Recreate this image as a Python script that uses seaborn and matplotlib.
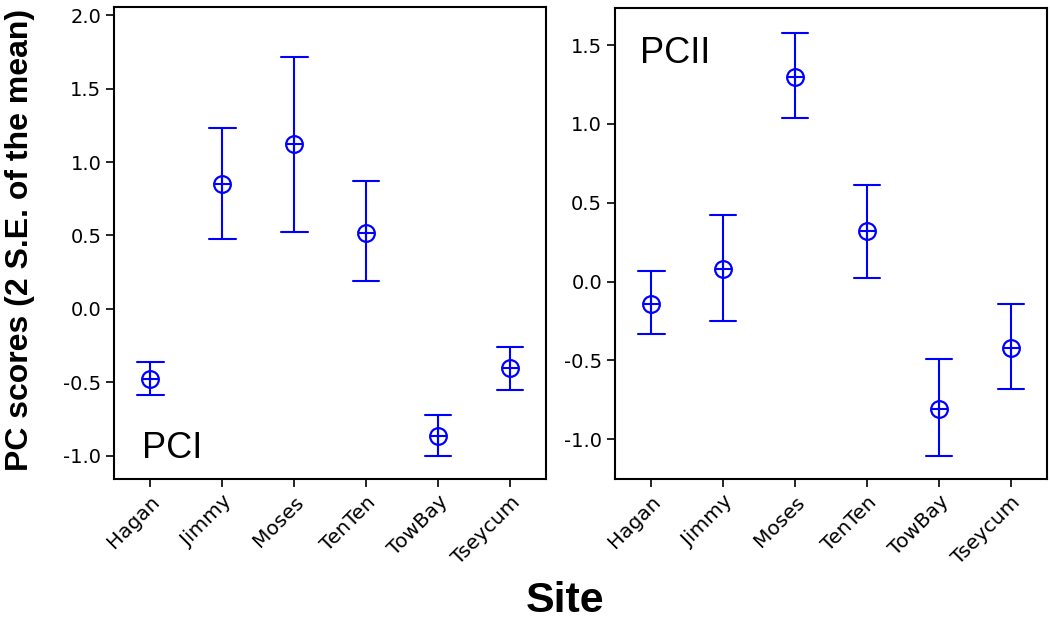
import matplotlib
matplotlib.use("Agg")
import matplotlib.pyplot as plt
import seaborn as sns
import pandas as pd

# sites on the x axis
sites = ["Hagan", "Jimmy", "Moses", "TenTen", "TowBay", "Tseycum"]

# PC I: mean and +/- 2 S.E. limits
pc1_mean = [-0.48, 0.85, 1.12, 0.52, -0.865, -0.405]
pc1_low = [-0.59, 0.475, 0.525, 0.19, -1.0, -0.555]
pc1_high = [-0.365, 1.23, 1.715, 0.87, -0.72, -0.26]

# PC II: mean and +/- 2 S.E. limits
pc2_mean = [-0.14, 0.08, 1.30, 0.32, -0.81, -0.42]
pc2_low = [-0.335, -0.25, 1.035, 0.025, -1.11, -0.68]
pc2_high = [0.07, 0.42, 1.58, 0.61, -0.49, -0.145]

BLUE = "#0000ff"

sns.set_theme(style="ticks")
plt.rcParams["font.family"] = ["DejaVu Sans"]
plt.rcParams["text.color"] = "black"
plt.rcParams["axes.labelcolor"] = "black"
plt.rcParams["xtick.color"] = "black"
plt.rcParams["ytick.color"] = "black"


def long_table(mean, low, high):
    # three rows per site: median gives the mean, min/max give the bar ends
    rows = []
    for s, m, lo, hi in zip(sites, mean, low, high):
        for v in (lo, m, hi):
            rows.append({"site": s, "score": v})
    return pd.DataFrame(rows)


def draw_panel(ax, mean, low, high, ylim, yticks, label, label_xy):
    df = long_table(mean, low, high)
    sns.pointplot(data=df, x="site", y="score", order=sites, ax=ax,
                  estimator="median", errorbar=("pi", 100),
                  color=BLUE, marker="o", markersize=12,
                  markerfacecolor="none", markeredgewidth=1.6,
                  linestyle="none", capsize=0.37,
                  err_kws={"linewidth": 1.5})
    sns.pointplot(data=df, x="site", y="score", order=sites, ax=ax,
                  estimator="median", errorbar=None,
                  color=BLUE, marker="+", markersize=12,
                  markeredgewidth=1.5, linestyle="none")
    ax.set_xlim(-0.5, 5.5)
    ax.set_ylim(*ylim)
    ax.set_yticks(yticks)
    ax.set_yticklabels([f"{t:.1f}" for t in yticks], fontsize=14)
    ax.set_xticks(range(len(sites)))
    ax.set_xticklabels(sites, rotation=45, ha="right",
                       rotation_mode="anchor", fontsize=14.5)
    ax.set_xlabel("")
    ax.set_ylabel("")
    for sp in ax.spines.values():
        sp.set_linewidth(1.5)
        sp.set_color("black")
    ax.tick_params(direction="out", length=6, width=1.2, colors="black")
    ax.text(label_xy[0], label_xy[1], label, fontsize=26, color="black",
            family="Liberation Sans", transform=ax.transAxes)


fig = plt.figure(figsize=(10.5, 6.28), dpi=100)
ax1 = fig.add_axes([0.109, 0.237, 0.411, 0.752])
ax2 = fig.add_axes([0.586, 0.237, 0.411, 0.750])

draw_panel(ax1, pc1_mean, pc1_low, pc1_high, (-1.16, 2.057),
           [-1.0, -0.5, 0.0, 0.5, 1.0, 1.5, 2.0], "PCI", (0.064, 0.044))
draw_panel(ax2, pc2_mean, pc2_low, pc2_high, (-1.254, 1.735),
           [-1.0, -0.5, 0.0, 0.5, 1.0, 1.5], "PCII", (0.058, 0.883))

fig.text(0.019, 0.618, "PC scores (2 S.E. of the mean)", rotation=90,
         ha="center", va="center", fontsize=23, fontweight="bold",
         color="black", family="Liberation Sans")
fig.text(0.538, 0.043, "Site", ha="center", va="center", fontsize=31,
         fontweight="bold", color="black", family="Liberation Sans")

fig.savefig("out.png", dpi=100)
plt.close(fig)
